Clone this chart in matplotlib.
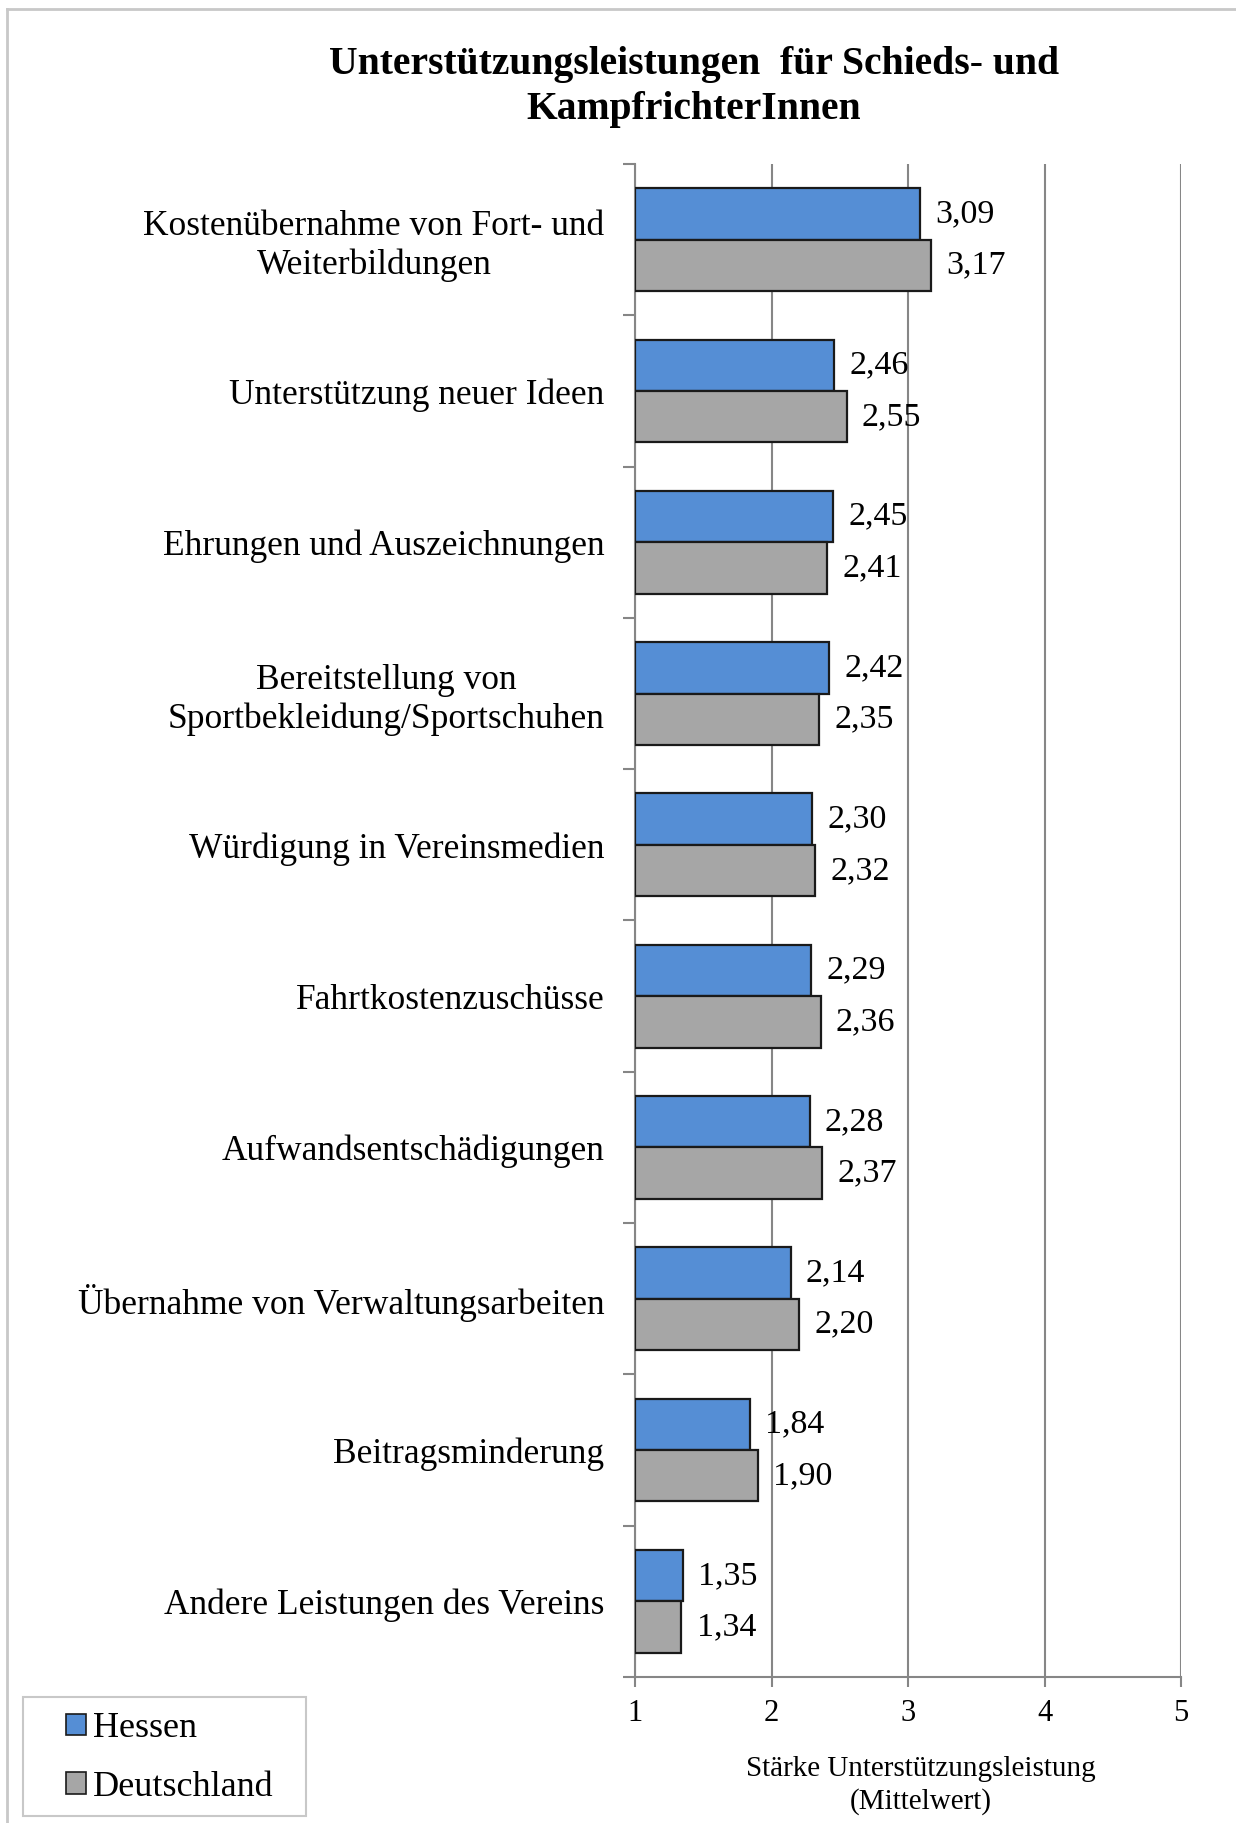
import numpy as np
import matplotlib
matplotlib.use('Agg')
import matplotlib.pyplot as plt
from matplotlib.patches import Rectangle, Patch
from matplotlib.lines import Line2D

plt.rcParams['font.family'] = ['Liberation Serif', 'DejaVu Serif']

# data
categories = ['Kostenübernahme von Fort- und\nWeiterbildungen',
              'Unterstützung neuer Ideen',
              'Ehrungen und Auszeichnungen',
              'Bereitstellung von\nSportbekleidung/Sportschuhen',
              'Würdigung in Vereinsmedien',
              'Fahrtkostenzuschüsse',
              'Aufwandsentschädigungen',
              'Übernahme von Verwaltungsarbeiten',
              'Beitragsminderung',
              'Andere Leistungen des Vereins']
hessen = [3.09, 2.46, 2.45, 2.42, 2.30, 2.29, 2.28, 2.14, 1.84, 1.35]
deutschland = [3.17, 2.55, 2.41, 2.35, 2.32, 2.36, 2.37, 2.20, 1.90, 1.34]
series_names = ['Hessen', 'Deutschland']
xticks = [1, 2, 3, 4, 5]

W, H = 1236, 1823
fig = plt.figure(figsize=(W / 100, H / 100), dpi=100)
ax = fig.add_axes([635 / W, 1 - 1677 / H, (1181 - 635) / W, (1677 - 164) / H])

blue = '#558ED5'
grey = '#A6A6A6'
axcol = '#868686'

n = len(categories)
y = np.arange(n)
bh = 0.34
b1 = ax.barh(y - bh / 2, np.array(hessen) - 1, left=1, height=bh, color=blue,
             edgecolor='#1a1a1a', linewidth=1.6, zorder=3)
b2 = ax.barh(y + bh / 2, np.array(deutschland) - 1, left=1, height=bh, color=grey,
             edgecolor='#1a1a1a', linewidth=1.6, zorder=3)

ax.bar_label(b1, labels=[f'{v:.2f}'.replace('.', ',') for v in hessen],
             padding=11, fontsize=24.5)
ax.bar_label(b2, labels=[f'{v:.2f}'.replace('.', ',') for v in deutschland],
             padding=11, fontsize=24.5)

ax.set_xlim(1, 5)
ax.set_ylim(n - 0.5, -0.5)
ax.set_xticks(xticks)
ax.set_xticklabels([str(t) for t in xticks], fontsize=22)
ax.tick_params(axis='x', direction='out', length=7, width=1.5, color=axcol, pad=9)
ax.grid(axis='x', color=axcol, linewidth=1.5, zorder=0)

ax.set_yticks(y)
ax.set_yticklabels(categories, fontsize=25.5, multialignment='center')
ax.set_yticks(np.arange(-0.5, n), minor=True)
ax.tick_params(axis='y', which='major', length=0, pad=22)
ax.tick_params(axis='y', which='minor', direction='out', length=9, width=1.5, color=axcol)

for s in ['top', 'right']:
    ax.spines[s].set_visible(False)
for s in ['left', 'bottom']:
    ax.spines[s].set_color(axcol)
    ax.spines[s].set_linewidth(1.5)

ax.set_xlabel('Stärke Unterstützungsleistung\n(Mittelwert)', fontsize=21,
              linespacing=1.3)
ax.xaxis.set_label_coords(0.524, -0.052)
ax.xaxis.label.set_va('top')

fig.text(694 / W, 1 - 87 / H,
         'Unterstützungsleistungen  für Schieds- und\nKampfrichterInnen',
         ha='center', va='center', fontsize=28.5, fontweight='bold', linespacing=1.3)

# legend box
fig.add_artist(Rectangle((23 / W, 1 - 1816 / H), (306 - 23) / W, (1816 - 1697) / H,
                         transform=fig.transFigure, fill=False, edgecolor='#c8c8c8',
                         linewidth=1.5))
handles = [Patch(facecolor=blue, edgecolor='#1a1a1a', linewidth=1.2),
           Patch(facecolor=grey, edgecolor='#1a1a1a', linewidth=1.2)]
fig.legend(handles, series_names, loc='center left',
           bbox_to_anchor=(66 / W, 1 - 1758 / H), frameon=False, fontsize=26,
           handlelength=0.55, handleheight=0.55, handletextpad=0.2,
           labelspacing=0.7, borderpad=0, borderaxespad=0)

# outer border
fig.add_artist(Line2D([7 / W, 7 / W], [0, 1 - 9 / H], transform=fig.transFigure,
                      color='#c8c8c8', linewidth=2))
fig.add_artist(Line2D([7 / W, 1], [1 - 9 / H, 1 - 9 / H], transform=fig.transFigure,
                      color='#c8c8c8', linewidth=2))

fig.savefig('out.png', dpi=100)
